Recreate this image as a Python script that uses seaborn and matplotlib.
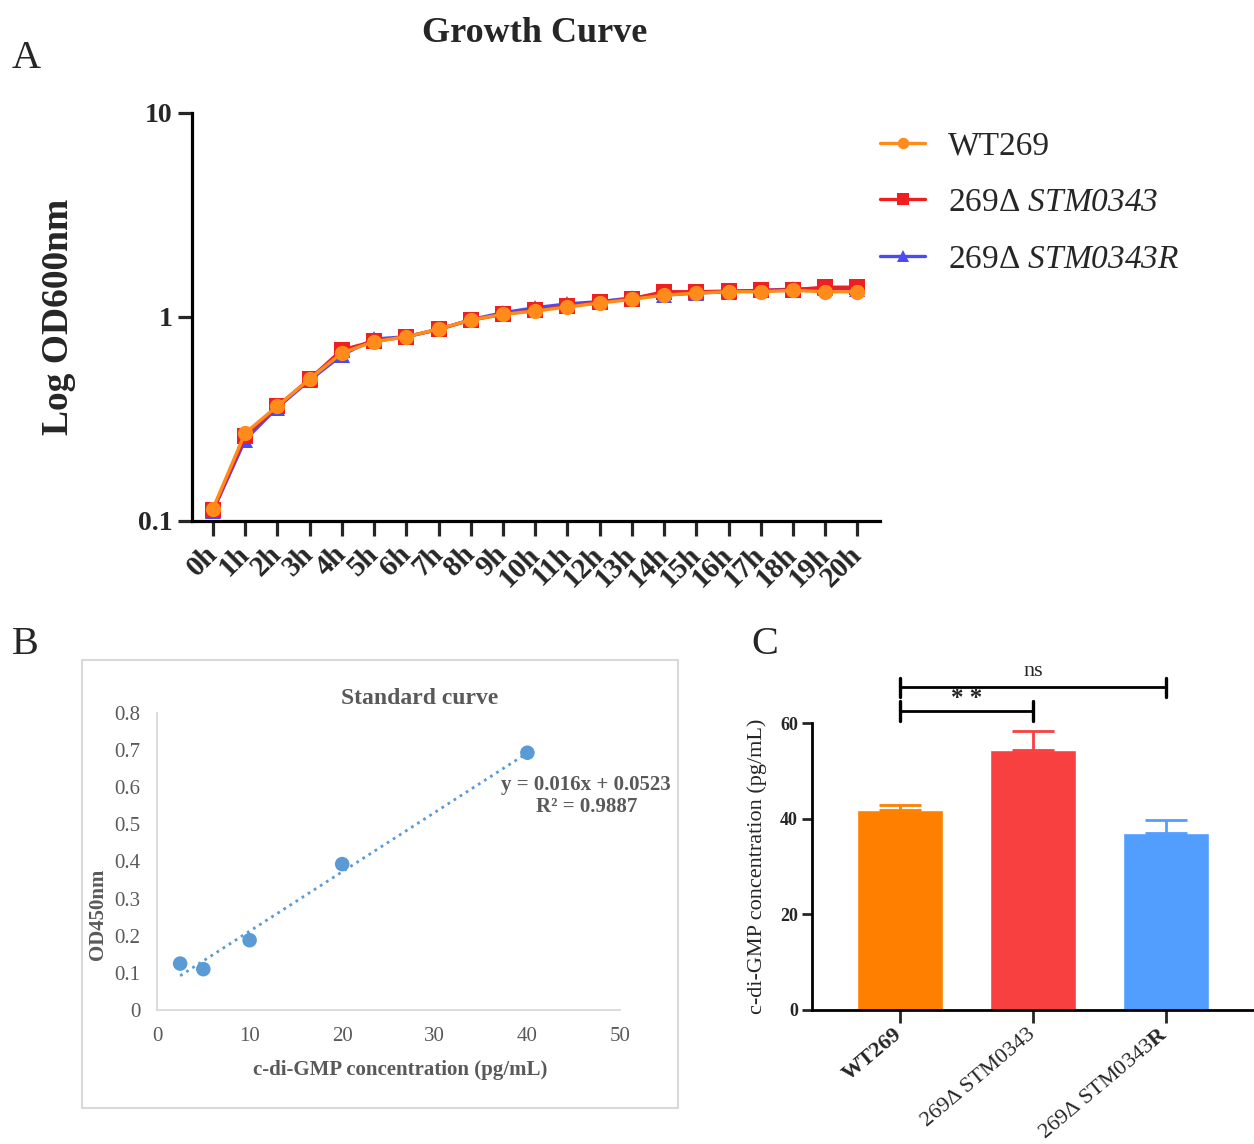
import numpy as np
import pandas as pd
import seaborn as sns
import matplotlib.pyplot as plt
from matplotlib.patches import Rectangle

sns.set_style('white')
plt.rcParams['font.family'] = ['Liberation Serif', 'DejaVu Serif']
plt.rcParams['mathtext.fontset'] = 'custom'
# gene names are italic, digits included
plt.rcParams['mathtext.rm'] = 'Liberation Serif:italic'
plt.rcParams['mathtext.it'] = 'Liberation Serif:italic'
plt.rcParams['mathtext.bf'] = 'Liberation Serif:bold'

# --- A: growth curve (OD600, log scale)
hours = [0, 1, 2, 3, 4, 5, 6, 7, 8, 9, 10, 11, 12, 13, 14, 15, 16, 17, 18, 19, 20]
hour_labels = ['0h', '1h', '2h', '3h', '4h', '5h', '6h', '7h', '8h', '9h', '10h',
               '11h', '12h', '13h', '14h', '15h', '16h', '17h', '18h', '19h', '20h']
od_wt = [0.115, 0.27, 0.366, 0.497, 0.667, 0.757, 0.80, 0.873, 0.967, 1.03, 1.07,
         1.12, 1.17, 1.22, 1.28, 1.31, 1.33, 1.33, 1.35, 1.33, 1.33]
od_del = [0.113, 0.26, 0.365, 0.497, 0.69, 0.76, 0.80, 0.87, 0.965, 1.03, 1.08,
          1.13, 1.18, 1.23, 1.33, 1.33, 1.34, 1.35, 1.36, 1.40, 1.40]
od_comp = [0.112, 0.25, 0.36, 0.49, 0.65, 0.78, 0.80, 0.87, 0.97, 1.05, 1.11,
           1.16, 1.19, 1.24, 1.28, 1.31, 1.33, 1.35, 1.37, 1.38, 1.37]

# --- B: standard curve
std_conc = [2.5, 5, 10, 20, 40]
std_od = [0.125, 0.11, 0.188, 0.393, 0.693]
fit_slope = 0.016
fit_intercept = 0.0523
fit_r2 = 0.9887

# --- C: c-di-GMP concentration
strains = ['WT269', '269Δ STM0343', '269Δ STM0343R']
strain_ticks = ['WT269', '269Δ STM0343', '269Δ STM0343$\\mathbf{R}$']
conc = [41.9, 54.4, 37.0]
conc_err = [0.9, 4.0, 2.7]
bar_colors = ['#FF8000', '#F94040', '#529EFF']

W, H = 1254, 1144
fig = plt.figure(figsize=(W / 100, H / 100), dpi=100)


def rect(l, r, t, b):
    return [l / W, 1 - b / H, (r - l) / W, (b - t) / H]


# ============ A
ax1 = fig.add_axes(rect(192, 880, 113, 521))
growth = pd.DataFrame({'hour': hours, 'wt': od_wt, 'del': od_del, 'comp': od_comp})
series = [('comp', '#4B4BF5', '^', '269Δ $STM0343R$'),
          ('del', '#F01E1E', 's', '269Δ $STM0343$'),
          ('wt', '#FF8C1A', 'o', 'WT269')]
for i, (col, c, m, lab) in enumerate(series):
    sns.lineplot(data=growth, x='hour', y=col, color=c, marker=m, markersize=11,
                 markeredgewidth=0, linewidth=2.4, label=lab, ax=ax1, zorder=3 + i)
ax1.set_yscale('log')
ax1.set_ylim(0.1, 10)
ax1.set_xlim(-0.65, 20.7)
ax1.set_yticks([0.1, 1, 10])
ax1.set_yticklabels(['0.1', '1', '10'])
ax1.minorticks_off()
ax1.set_xticks(hours)
ax1.set_xticklabels(hour_labels, rotation=45, ha='right', va='center',
                    rotation_mode='anchor')
for s in ['top', 'right']:
    ax1.spines[s].set_visible(False)
for s in ['left', 'bottom']:
    ax1.spines[s].set_linewidth(2.3)
    ax1.spines[s].set_color('black')
ax1.tick_params(axis='y', length=10, width=2.3, labelsize=20, pad=4, left=True)
ax1.tick_params(axis='x', length=11, width=2.3, labelsize=21, pad=10, bottom=True)
for t in ax1.get_xticklabels() + ax1.get_yticklabels():
    t.set_fontweight('bold')
ax1.set_xlabel('')
ax1.set_ylabel('')
h, l = ax1.get_legend_handles_labels()
ax1.legend(h[::-1], l[::-1], loc='upper left', bbox_to_anchor=(880 / W, 1 - 131 / H),
           bbox_transform=fig.transFigure, frameon=False, fontsize=24,
           handlelength=1.35, handletextpad=0.7, labelspacing=0.78,
           borderpad=0, borderaxespad=0, markerscale=0.75)
fig.text(58 / W, 1 - 317 / H, 'Log OD600nm', rotation=90, ha='center', va='center',
         fontsize=27, fontweight='bold')
fig.text(535 / W, 1 - 33 / H, 'Growth Curve', ha='center', va='center',
         fontsize=26, fontweight='bold')

# ============ B
grey = '#595959'
fig.patches.append(Rectangle((82 / W, 1 - 1108 / H), 596 / W, 448 / H,
                             transform=fig.transFigure, fill=False,
                             edgecolor='#D9D9D9', linewidth=1.5))
ax2 = fig.add_axes(rect(157, 620, 713, 1010))
sns.scatterplot(x=std_conc, y=std_od, color='#5B9BD5', s=110, edgecolor='none',
                ax=ax2, zorder=3)
fx = np.array([min(std_conc), max(std_conc)])
ax2.plot(fx, fit_slope * fx + fit_intercept, linestyle=(0, (1, 1.6)),
         color='#5B9BD5', linewidth=2, zorder=2)
ax2.set_xlim(0, 50)
ax2.set_ylim(0, 0.8)
ax2.set_xticks([0, 10, 20, 30, 40, 50])
ax2.set_yticks([0, 0.1, 0.2, 0.3, 0.4, 0.5, 0.6, 0.7, 0.8])
ax2.set_yticklabels(['0', '0.1', '0.2', '0.3', '0.4', '0.5', '0.6', '0.7', '0.8'])
ax2.tick_params(length=0, labelsize=15, labelcolor=grey, pad=12)
for s in ['top', 'right']:
    ax2.spines[s].set_visible(False)
for s in ['left', 'bottom']:
    ax2.spines[s].set_color('#D9D9D9')
    ax2.spines[s].set_linewidth(1.3)
ax2.text(0.568, 1.05, 'Standard curve', transform=ax2.transAxes, ha='center',
         va='center', fontsize=17, fontweight='bold', color=grey)
ax2.text(0.927, 0.72, f'y = {fit_slope}x + {fit_intercept}\nR² = {fit_r2}',
         transform=ax2.transAxes, ha='center', va='center', fontsize=15,
         fontweight='bold', color=grey, linespacing=1.15)
ax2.text(0.525, -0.202, 'c-di-GMP concentration (pg/mL)', transform=ax2.transAxes,
         ha='center', va='center', fontsize=15, fontweight='bold', color=grey)
ax2.text(-0.127, 0.323, 'OD450nm', transform=ax2.transAxes, rotation=90,
         ha='center', va='center', fontsize=15, fontweight='bold', color=grey)

# ============ C
ax3 = fig.add_axes(rect(812, 1254, 723, 1010))
cdf = pd.DataFrame({'strain': strains, 'conc': conc})
sns.barplot(data=cdf, x='strain', y='conc', hue='strain', palette=bar_colors,
            saturation=1, width=0.65, errorbar=None, legend=False, ax=ax3, zorder=2)
for i in range(3):
    ax3.errorbar(i, conc[i], yerr=[[0], [conc_err[i]]], fmt='none',
                 ecolor=bar_colors[i], elinewidth=2, capsize=15, capthick=2, zorder=3)
ax3.set_xlim(-0.66, 2.66)
ax3.set_ylim(0, 60)
ax3.set_yticks([0, 20, 40, 60])
ax3.set_xticks([0, 1, 2])
ax3.set_xticklabels(strain_ticks, rotation=40, ha='right', va='center',
                    rotation_mode='anchor')
ax3.get_xticklabels()[0].set_fontweight('bold')
for t in ax3.get_yticklabels():
    t.set_fontweight('bold')
ax3.tick_params(axis='y', length=7, width=2, labelsize=13, pad=3, left=True)
ax3.tick_params(axis='x', length=9, width=2, labelsize=16, pad=7, bottom=True)
for s in ['top', 'right']:
    ax3.spines[s].set_visible(False)
for s in ['left', 'bottom']:
    ax3.spines[s].set_linewidth(2)
    ax3.spines[s].set_color('black')
ax3.set_xlabel('')
ax3.set_ylabel('')
fig.text(757 / W, 1 - 866 / H, 'c-di-GMP concentration (pg/mL)', rotation=90,
         ha='center', va='center', fontsize=16)

# significance brackets
for (x0, x1, yb) in [(0, 1, 62.5), (0, 2, 67.5)]:
    ax3.plot([x0, x1], [yb, yb], color='black', lw=2, clip_on=False)
    for xe in (x0, x1):
        ax3.plot([xe, xe], [yb - 2, yb + 2], color='black', lw=2.4, clip_on=False)
ax3.text(0.5, 62.7, '* *', ha='center', va='bottom', fontsize=18, fontweight='bold')
ax3.text(1.0, 68.7, 'ns', ha='center', va='bottom', fontsize=16)

# panel letters
fig.text(26 / W, 1 - 58 / H, 'A', ha='center', va='center', fontsize=29)
fig.text(25 / W, 1 - 645 / H, 'B', ha='center', va='center', fontsize=29)
fig.text(765 / W, 1 - 645 / H, 'C', ha='center', va='center', fontsize=29)

fig.savefig('out.png', dpi=100)
